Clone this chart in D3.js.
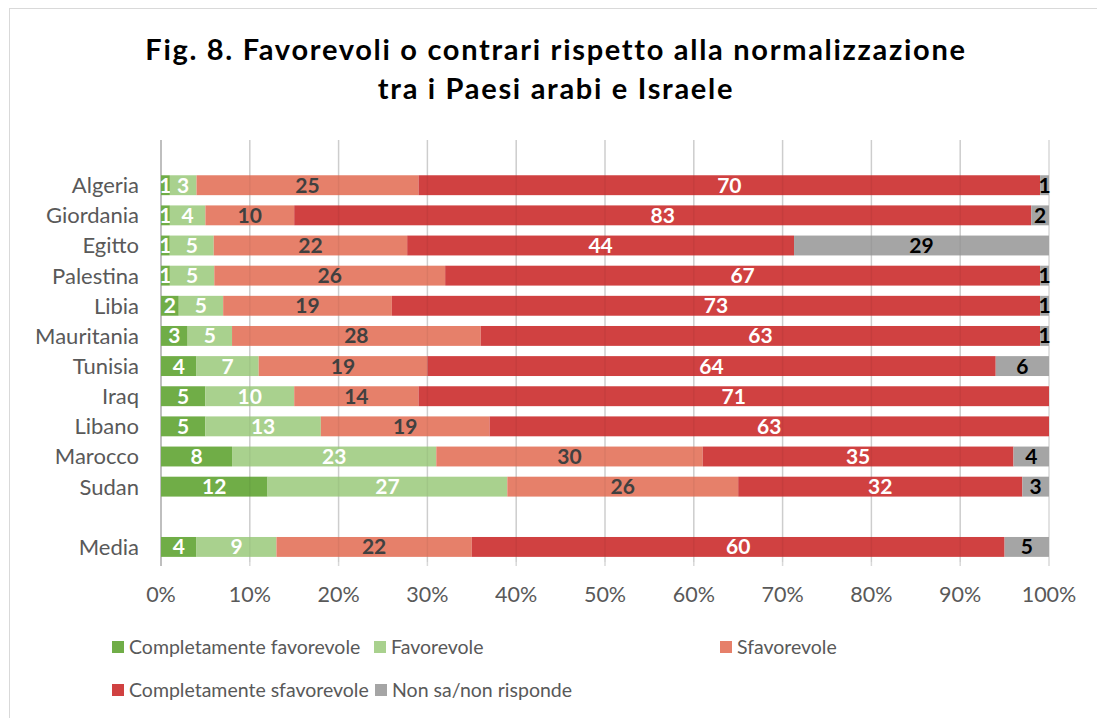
<!DOCTYPE html>
<html><head><meta charset="utf-8">
<script src="https://cdn.jsdelivr.net/npm/d3@7"></script>
<style>body{margin:0;background:#fff;} svg{display:block;}</style>
</head><body>
<svg id="chart" width="1097" height="718"></svg>
<script>
const categories = ["", "Algeria","Giordania","Egitto","Palestina","Libia","Mauritania","Tunisia","Iraq","Libano","Marocco","Sudan"," ","Media"];
const seriesNames = ["Completamente favorevole","Favorevole","Sfavorevole","Completamente sfavorevole","Non sa/non risponde"];
const complFav   = [null,1,1,1,1,2,3,4,5,5,8,12,null,4];
const fav        = [null,3,4,5,5,5,5,7,10,13,23,27,null,9];
const sfav       = [null,25,10,22,26,19,28,19,14,19,30,26,null,22];
const complSfav  = [null,70,83,44,67,73,63,64,71,63,35,32,null,60];
const nonSa      = [null,1,2,29,1,1,1,6,0,0,4,3,null,5];
const tickLabels = ["0%","10%","20%","30%","40%","50%","60%","70%","80%","90%","100%"];
const titleLines = ["Fig. 8. Favorevoli o contrari rispetto alla normalizzazione","tra i Paesi arabi e Israele"];

const colors = ["#70AD47","#A9D18E","#E6806A","#D04141","#A5A5A5"];
const labelColors = ["#fff","#fff","#404040","#fff","#000"];
const seriesVals = [complFav, fav, sfav, complSfav, nonSa];

const svg = d3.select("#chart");
const font = "Lato, 'Open Sans', sans-serif";

// chart border
svg.append("rect").attr("x",9.5).attr("y",8.5).attr("width",1200).attr("height",800)
  .attr("fill","none").attr("stroke","#D9D9D9").attr("stroke-width",1);

// title
svg.selectAll("text.title").data(titleLines).enter().append("text")
  .attr("x",556).attr("y",(d,i)=>60+i*39)
  .attr("text-anchor","middle").attr("font-family",font).attr("font-weight","bold")
  .attr("font-size",29).attr("letter-spacing",1.7).attr("fill","#000").text(d=>d);

const x = d3.scaleLinear().domain([0,1]).range([161,1049]);
const y = d3.scaleBand().domain(categories).range([140,562]).paddingInner(0.34).paddingOuter(0.17);

// gridlines
const ticks = d3.range(0,1.0001,0.1);
svg.append("g").selectAll("line").data(ticks).enter().append("line")
  .attr("x1",d=>x(d)).attr("x2",d=>x(d)).attr("y1",140).attr("y2",566)
  .attr("stroke",(d,i)=>i===0?"#BFBFBF":"#D9D9D9").attr("stroke-width",(d,i)=>i===0?2:1.5);

// stack
const rows = categories.map((c,i)=>{
  const vals = seriesVals.map(s=>s[i]);
  return {cat:c, vals};
}).filter(r=>r.vals[0]!==null);

const gBars = svg.append("g");
rows.forEach(r=>{
  const total = d3.sum(r.vals);
  let cum = 0;
  r.vals.forEach((v,k)=>{
    const x0 = x(cum/total), x1 = x((cum+v)/total);
    cum += v;
    if (v<=0) return;
    gBars.append("rect").attr("x",x0).attr("y",y(r.cat)).attr("width",x1-x0).attr("height",y.bandwidth())
      .attr("fill",colors[k]);
    gBars.append("text").attr("x",(x0+x1)/2).attr("y",y(r.cat)+y.bandwidth()/2)
      .attr("dy","0.36em").attr("text-anchor","middle").attr("font-family",font)
      .attr("font-weight","bold").attr("font-size",21).attr("fill",labelColors[k]).text(v);
  });
});

// faint gridline overlay through bars
svg.append("g").selectAll("line").data(ticks.slice(1,10)).enter().append("line")
  .attr("x1",d=>x(d)).attr("x2",d=>x(d)).attr("y1",140).attr("y2",562)
  .attr("stroke","#000").attr("stroke-opacity",0.05).attr("stroke-width",1.5);

// category labels
svg.append("g").selectAll("text").data(categories.filter(c=>c.trim()!=="")).enter().append("text")
  .attr("x",139).attr("y",d=>y(d)+y.bandwidth()/2).attr("dy","0.36em")
  .attr("text-anchor","end").attr("font-family",font).attr("font-size",22).attr("fill","#595959").text(d=>d);

// x tick labels
svg.append("g").selectAll("text").data(tickLabels).enter().append("text")
  .attr("x",(d,i)=>x(ticks[i])).attr("y",602).attr("text-anchor","middle")
  .attr("font-family",font).attr("font-size",21.5).attr("fill","#595959").text(d=>d);

// legend
const legendPos = [[112,647],[374,647],[720,647],[112,690],[375,690]];
const lg = svg.append("g");
seriesNames.forEach((n,i)=>{
  const [lx,ly] = legendPos[i];
  lg.append("rect").attr("x",lx).attr("y",ly-6).attr("width",12).attr("height",12).attr("fill",colors[i]);
  lg.append("text").attr("x",lx+17).attr("y",ly).attr("dy","0.36em").attr("font-family",font)
    .attr("font-size",19.5).attr("fill","#595959").text(n);
});
</script>
</body></html>
